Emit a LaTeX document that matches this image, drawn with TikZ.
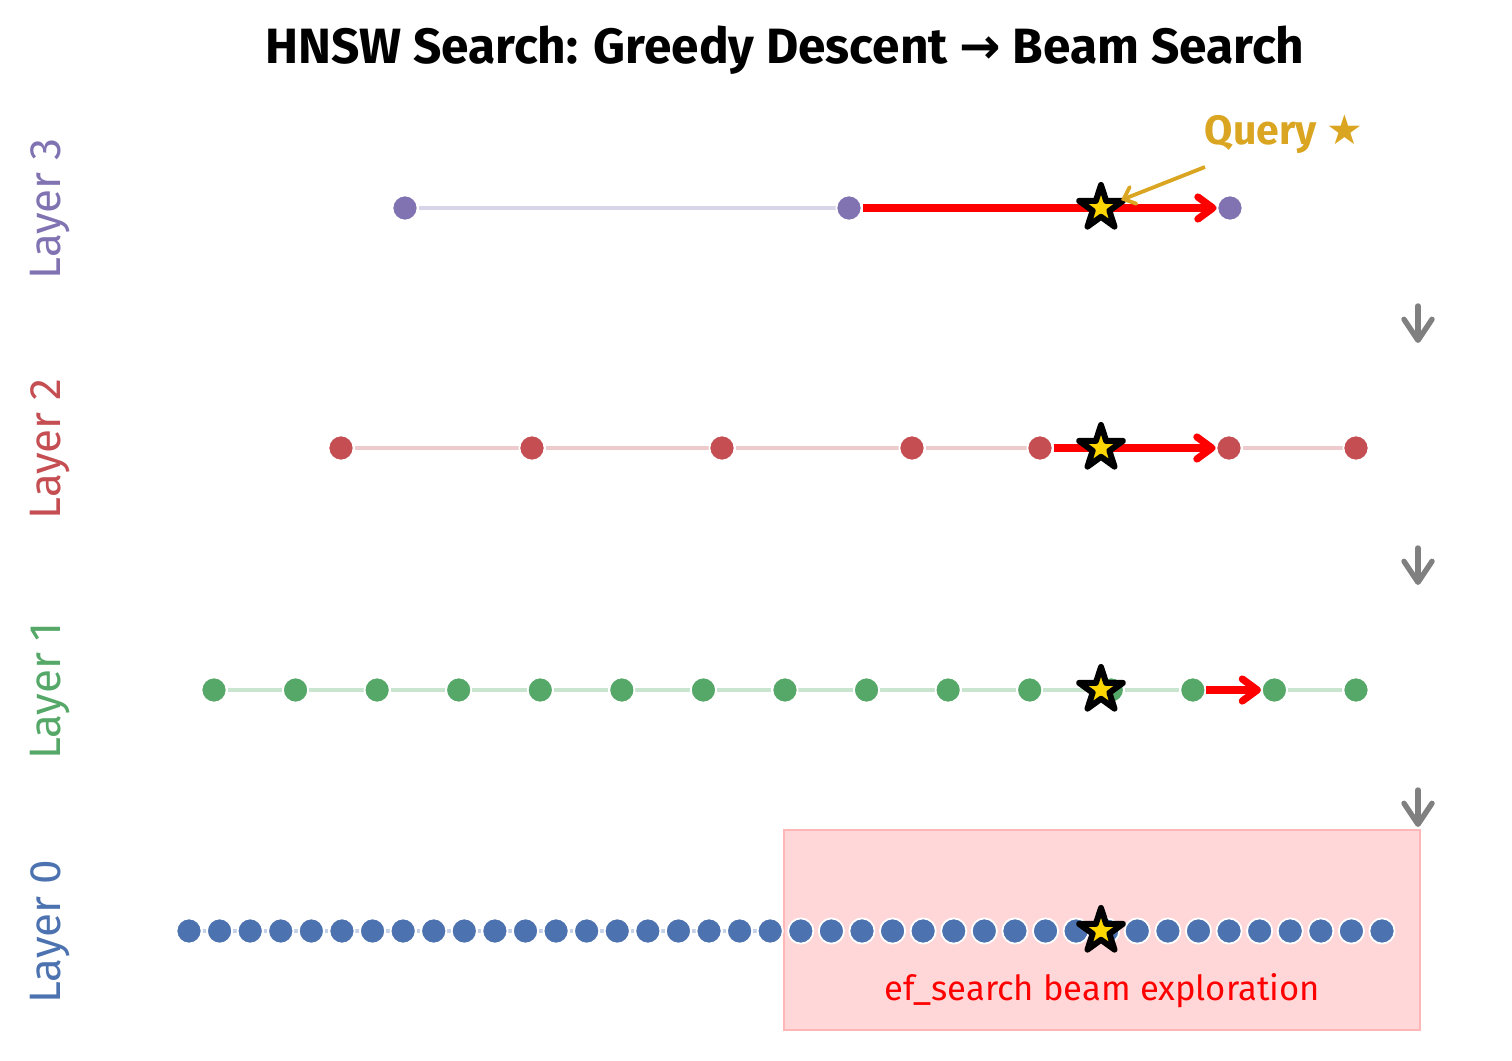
\documentclass[tikz,border=0pt]{standalone}
\usepackage{fontspec}
\setmainfont{Fira Sans}
\newfontfamily\dejavu{DejaVu Sans}
\usetikzlibrary{arrows.meta,shapes.geometric}
\definecolor{cpurple}{HTML}{8172B2}
\definecolor{cred}{HTML}{C44E52}
\definecolor{cgreen}{HTML}{55A868}
\definecolor{cblue}{HTML}{4C72B0}
\definecolor{lpurple}{HTML}{D8D5E8}
\definecolor{lred}{HTML}{EDCACB}
\definecolor{lgreen}{HTML}{C9E5D0}
\definecolor{lblue}{HTML}{C5D1E8}
\definecolor{gold}{HTML}{FFD700}
\definecolor{goldenrod}{HTML}{DAA520}
\definecolor{boxfill}{HTML}{FFD7D8}
\definecolor{boxedge}{HTML}{FFB6B6}
\definecolor{garrow}{HTML}{808080}
\pgfdeclarelayer{bg}
\pgfsetlayers{bg,main}
\tikzset{
  dot/.style={circle, fill=#1, draw=white, line width=0.9pt, minimum size=12.6pt, inner sep=0pt},
  edge/.style={draw=#1, line width=1.6pt},
  redarrow/.style={draw=red, line width=3.6pt, -{Straight Barb[length=7.5pt,width=11pt,line cap=round,line join=round]}},
  grayarrow/.style={draw=garrow, line width=2.7pt, line cap=round, -{Straight Barb[length=10.5pt,width=14pt,line cap=round,line join=round]}},
  goldarrow/.style={draw=goldenrod, line width=1.9pt, shorten >=-3pt, -{Straight Barb[length=5pt,width=9pt,line cap=round]}},
  qstar/.style={star, star points=5, star point ratio=2.618, minimum size=23pt, inner sep=0pt, fill=gold, draw=black, line width=3pt, line join=round},
  layerlabel/.style={rotate=90, font=\fontsize{22}{26}\selectfont, text=#1},
  beambox/.style={draw=boxedge, fill=boxfill, line width=1pt, minimum width=318pt, minimum height=100pt, inner sep=0pt},
}
\begin{document}
\begin{tikzpicture}[x=0.5pt,y=-0.5pt]
\useasboundingbox (0,0) rectangle (1512,1061);
% title
\node[font=\fontsize{24.8}{28}\selectfont\bfseries] (title) at (785,50) {HNSW Search: Greedy Descent {\dejavu\bfseries →} Beam Search};
% layer labels
\node[layerlabel=cpurple] (lab3) at (50,209) {Layer 3};
\node[layerlabel=cred] (lab2) at (50,449) {Layer 2};
\node[layerlabel=cgreen] (lab1) at (50,691) {Layer 1};
\node[layerlabel=cblue] (lab0) at (50,932) {Layer 0};
% beam box
\node[beambox] (beam) at (1102,930) {};
\node[text=red, font=\fontsize{17.3}{20}\selectfont] (beamlabel) at (1102,991) {ef\_search beam exploration};
% layer 3
\foreach \x [count=\i] in {405,849,1230} {\node[dot=cpurple] (L3n\i) at (\x,208) {};}
\begin{pgfonlayer}{bg}
\draw[edge=lpurple] (L3n1) -- (L3n2);
\draw[edge=lpurple] (L3n2) -- (L3n3);
\end{pgfonlayer}
% layer 2
\foreach \x [count=\i] in {341,532,722,912,1040,1229,1356} {\node[dot=cred] (L2n\i) at (\x,448) {};}
\begin{pgfonlayer}{bg}
\foreach \i [evaluate=\i as \j using int(\i+1)] in {1,...,6} {\draw[edge=lred] (L2n\i) -- (L2n\j);}
\end{pgfonlayer}
% layer 1
\foreach \i in {1,...,15} {\node[dot=cgreen] (L1n\i) at ({214+81.57*(\i-1)},690) {};}
\begin{pgfonlayer}{bg}
\foreach \i [evaluate=\i as \j using int(\i+1)] in {1,...,14} {\draw[edge=lgreen] (L1n\i) -- (L1n\j);}
\end{pgfonlayer}
% layer 0
\foreach \i in {1,...,40} {\node[dot=cblue] (L0n\i) at ({189+30.59*(\i-1)},931) {};}
\begin{pgfonlayer}{bg}
\foreach \i [evaluate=\i as \j using int(\i+1)] in {1,...,39} {\draw[edge=lblue] (L0n\i) -- (L0n\j);}
\end{pgfonlayer}
% greedy moves
\draw[redarrow] (L3n2) -- (L3n3);
\draw[redarrow] (L2n5) -- (L2n6);
\draw[redarrow] (L1n13) -- (L1n14);
% query stars
\node[qstar] (q3) at (1101,208) {};
\node[qstar] (q2) at (1101,448) {};
\node[qstar] (q1) at (1101,690) {};
\node[qstar] (q0) at (1101,931) {};
% query annotation
\node[text=goldenrod, font=\fontsize{20.5}{24}\selectfont\bfseries] (qlabel) at (1284,134) {Query {\dejavu ★}};
\coordinate (qa) at (1205,167);
\draw[goldarrow] (qa) -- (q3);
% descent arrows
\coordinate (d1s) at (1418,306); \coordinate (d1e) at (1418,343);
\coordinate (d2s) at (1418,548); \coordinate (d2e) at (1418,585);
\coordinate (d3s) at (1418,790); \coordinate (d3e) at (1418,827);
\draw[grayarrow] (d1s) -- (d1e);
\draw[grayarrow] (d2s) -- (d2e);
\draw[grayarrow] (d3s) -- (d3e);
\end{tikzpicture}
\end{document}
